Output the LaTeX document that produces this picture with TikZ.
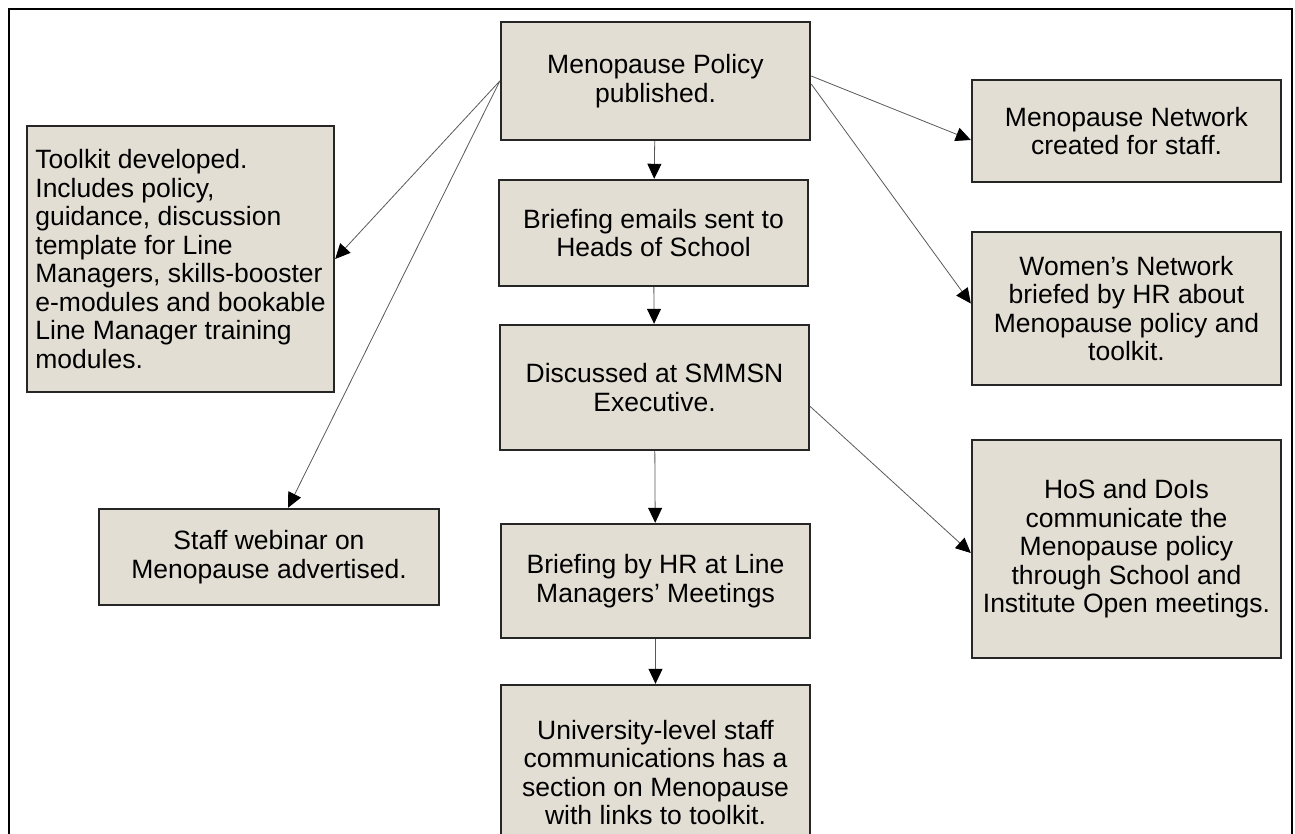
\documentclass[tikz,border=0pt]{standalone}
\usepackage{fontspec}
\setmainfont{Liberation Sans}
\usetikzlibrary{arrows.meta}
\definecolor{boxfill}{RGB}{226,222,212}
\tikzset{
    stepbox/.style={draw=black!85, line width=2.4pt, fill=boxfill, inner sep=0pt, align=center,
        font=\fontsize{26.5}{28.5}\selectfont},
    conn/.style={-{Triangle[length=15pt,width=14pt,color=black]}, line width=0.8pt, black!65}
}
\begin{document}
\begin{tikzpicture}[x=1pt,y=-1pt]
                \useasboundingbox (0,0) rectangle (1295,834);
                \clip (0,0) rectangle (1295,834);
                \draw[line width=2.4pt] (9,880) -- (9,9) -- (1292,9) -- (1292,880);

                \node[stepbox, minimum width=309pt, minimum height=118pt] (policy) at (655.5,81) {Menopause Policy\\published.};
                \node[stepbox, minimum width=307pt, minimum height=266pt, align=left] (toolkit) at (180.5,259)
                    {Toolkit developed.\\Includes policy,\\guidance, discussion\\template for Line\\Managers, skills-booster\\e-modules and bookable\\Line Manager training\\modules.};
                \node[stepbox, minimum width=309pt, minimum height=102pt] (network) at (1126.5,131) {Menopause Network\\created for staff.};
                \node[stepbox, minimum width=309pt, minimum height=106pt] (emails) at (653.5,233) {Briefing emails sent to\\Heads of School};
                \node[stepbox, minimum width=309pt, minimum height=153pt] (women) at (1126.5,308.5) {Women’s Network\\briefed by HR about\\Menopause policy and\\toolkit.};
                \node[stepbox, minimum width=309pt, minimum height=125pt] (smmsn) at (654.5,387.5) {Discussed at SMMSN\\Executive.};
                \node[stepbox, minimum width=340pt, minimum height=96pt] (webinar) at (269,557) {Staff webinar on\\Menopause advertised.};
                \node[stepbox, minimum width=309pt, minimum height=114pt] (lmmeet) at (655.5,581) {Briefing by HR at Line\\Managers’ Meetings};
                \node[stepbox, minimum width=309pt, minimum height=218pt] (hos) at (1126.5,549) {HoS and DoIs\\communicate the\\Menopause policy\\through School and\\Institute Open meetings.};
                \node[stepbox, minimum width=309pt, minimum height=175pt] (univ) at (655.5,772.5) {University-level staff\\communications has a\\section on Menopause\\with links to toolkit.};

                \draw[conn] (policy.west) -- (toolkit.east);
                \draw[conn] (policy.west) -- ([xshift=19pt]webinar.north);
                \draw[conn] ([yshift=5pt]policy.east) -- ([yshift=-9pt]network.west);
                \draw[conn] ([yshift=-3pt]policy.east) -- ([yshift=5pt]women.west);
                \draw[conn] (policy) -- (emails);
                \draw[conn] (emails) -- (smmsn);
                \draw[conn] (smmsn) -- (lmmeet);
                \draw[conn] (lmmeet) -- (univ);
                \draw[conn] ([yshift=-19pt]smmsn.east) -- ([yshift=-4pt]hos.west);
            \end{tikzpicture}
\end{document}
